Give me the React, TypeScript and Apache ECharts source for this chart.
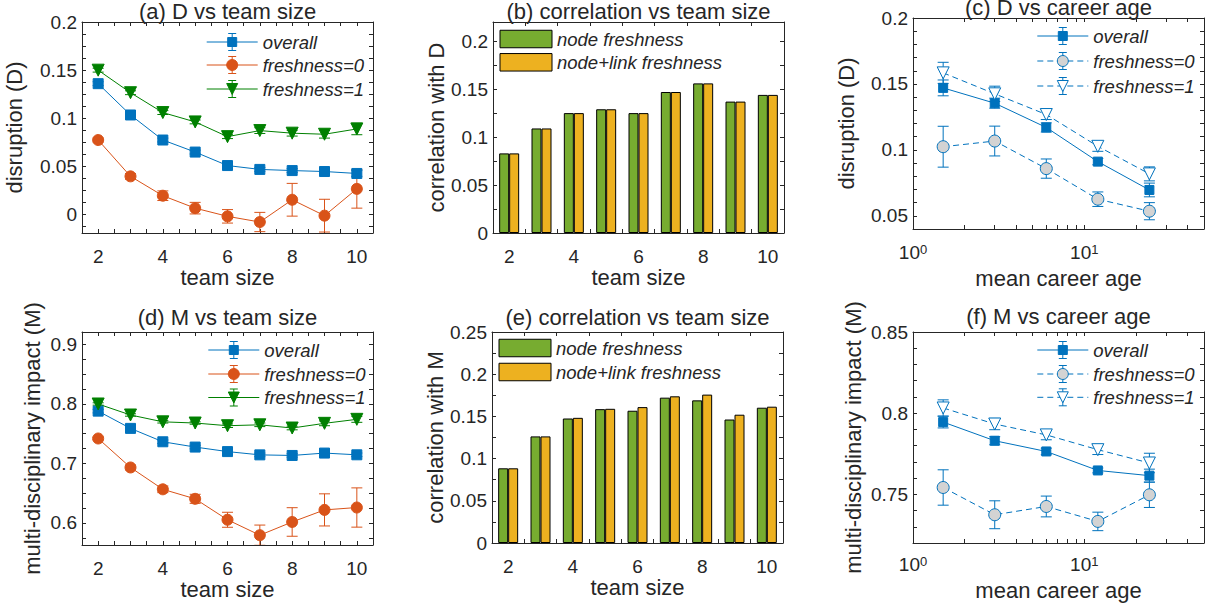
import { useEffect, useRef } from 'react';
import * as echarts from 'echarts';

const FONT = "'Liberation Sans', Arial, Helvetica, sans-serif";
const INK = '#262626';
const BLUE = '#0072BD';
const ORANGE = '#D95319';
const GREEN = '#008000';
const GRAY_FILL = '#D3D3D3';
const BAR_GREEN = '#77AC30';
const BAR_YELLOW = '#EDB120';

// ---- data ----
const teamSizes = [2, 3, 4, 5, 6, 7, 8, 9, 10];
const teamSizeLabels = ['2', '3', '4', '5', '6', '7', '8', '9', '10'];
const careerAges = [1.5, 3, 6, 12, 24];

// (a) disruption vs team size
const dOverall = [0.136, 0.1035, 0.0775, 0.065, 0.051, 0.047, 0.0458, 0.0448, 0.0428];
const dOverallErr = [0.002, 0.002, 0.002, 0.002, 0.002, 0.002, 0.002, 0.002, 0.003];
const dFresh0 = [0.0775, 0.0398, 0.0197, 0.0068, -0.0017, -0.0076, 0.0155, -0.001, 0.0268];
const dFresh0Err = [0.002, 0.003, 0.005, 0.006, 0.007, 0.01, 0.017, 0.017, 0.02];
const dFresh1 = [0.15, 0.1266, 0.106, 0.0963, 0.081, 0.0873, 0.0846, 0.0835, 0.089];
const dFresh1Err = [0.002, 0.002, 0.002, 0.002, 0.002, 0.003, 0.003, 0.004, 0.006];

// (b) correlation with D
const corrDNode = [0.083, 0.109, 0.125, 0.129, 0.125, 0.147, 0.156, 0.137, 0.144];
const corrDLink = [0.083, 0.109, 0.125, 0.129, 0.125, 0.147, 0.156, 0.137, 0.144];

// (c) disruption vs career age
const cOverall = [0.147, 0.1354, 0.117, 0.0911, 0.0696];
const cOverallErr = [0.006, 0.0038, 0.0035, 0.0024, 0.0052];
const cFresh0 = [0.1024, 0.1067, 0.0858, 0.0626, 0.0535];
const cFresh0Err = [0.0155, 0.0113, 0.0073, 0.0055, 0.0065];
const cFresh1 = [0.1584, 0.1425, 0.1268, 0.1027, 0.0818];
const cFresh1Err = [0.008, 0.0058, 0.0038, 0.0038, 0.0053];

// (d) multi-disciplinary impact vs team size
const mOverall = [0.788, 0.759, 0.7365, 0.7276, 0.72, 0.7145, 0.7135, 0.7175, 0.7146];
const mOverallErr = [0.003, 0.003, 0.003, 0.003, 0.003, 0.003, 0.003, 0.003, 0.003];
const mFresh0 = [0.742, 0.6933, 0.6566, 0.6406, 0.6054, 0.5795, 0.6017, 0.622, 0.626];
const mFresh0Err = [0.002, 0.004, 0.0056, 0.0076, 0.0126, 0.017, 0.024, 0.027, 0.033];
const mFresh1 = [0.8, 0.7815, 0.77, 0.768, 0.7635, 0.765, 0.7596, 0.7675, 0.7742];
const mFresh1Err = [0.002, 0.002, 0.002, 0.002, 0.003, 0.003, 0.003, 0.004, 0.005];

// (e) correlation with M
const corrMNode = [0.0885, 0.1263, 0.1475, 0.1586, 0.1567, 0.1722, 0.169, 0.1463, 0.1603];
const corrMLink = [0.0885, 0.1263, 0.1483, 0.159, 0.161, 0.1738, 0.1758, 0.152, 0.1615];

// (f) multi-disciplinary impact vs career age
const fOverall = [0.7945, 0.783, 0.7764, 0.7647, 0.7615];
const fOverallErr = [0.0036, 0.0025, 0.002, 0.0015, 0.004];
const fFresh0 = [0.7542, 0.7374, 0.7425, 0.7333, 0.7497];
const fFresh0Err = [0.0109, 0.0086, 0.0064, 0.0057, 0.0078];
const fFresh1 = [0.8032, 0.7933, 0.7866, 0.7775, 0.7693];
const fFresh1Err = [0.005, 0.0035, 0.003, 0.003, 0.006];

// tick labels
const teamTickLabels = [2, 4, 6, 8, 10];
const logTickLabels = [1, 10];
const dTickLabels = [0, 0.05, 0.1, 0.15, 0.2];
const corrDTickLabels = [0, 0.05, 0.1, 0.15, 0.2];
const cTickLabels = [0.05, 0.1, 0.15, 0.2];
const mTickLabels = [0.6, 0.7, 0.8, 0.9];
const corrMTickLabels = [0, 0.05, 0.1, 0.15, 0.2, 0.25];
const fTickLabels = [0.75, 0.8, 0.85];
const logMinorTicks = [1, 2, 3, 4, 5, 6, 7, 8, 9, 10, 20, 30, 40, 50];

function steps(from: number, to: number, step: number): number[] {
  const out: number[] = [];
  const n = Math.round((to - from) / step);
  for (let i = 0; i <= n; i++) out.push(+(from + i * step).toFixed(6));
  return out;
}

type Marker = 'square' | 'circle' | 'tri';
interface LineSpec {
  name: string;
  xs: number[];
  ys: number[];
  errs: number[];
  color: string;
  fill: string;
  marker: Marker;
  size: number;
  dashed: boolean;
}
interface Box { left: number; top: number; width: number; height: number }

const labelFont = { color: INK, fontSize: 19, fontFamily: FONT };
const nameFont = { color: INK, fontSize: 22, fontFamily: FONT };
const axisLine = { show: true, onZero: false, lineStyle: { color: INK, width: 1 } };
const tickLine = { color: INK, width: 1 };

function fmt(v: number) {
  return String(+v.toFixed(4));
}

function buildOption() {
  const grid: any[] = [];
  const xAxis: any[] = [];
  const yAxis: any[] = [];
  const series: any[] = [];
  const graphic: any[] = [];

  const addGrid = (box: Box) => {
    grid.push({ ...box, containLabel: false, show: false });
    return grid.length - 1;
  };

  const addX = (gi: number, base: any, tick: any, label: any, name: string, nameGap: number) => {
    const idx = xAxis.length;
    xAxis.push({
      ...base, gridIndex: gi, position: 'bottom', axisLine,
      axisTick: { show: true, inside: true, length: 4, lineStyle: tickLine, ...tick },
      axisLabel: { show: true, ...labelFont, ...label },
      splitLine: { show: false },
      name, nameLocation: 'middle', nameGap, nameTextStyle: nameFont,
    });
    xAxis.push({
      ...base, gridIndex: gi, position: 'top', axisLine,
      axisTick: { show: true, inside: true, length: 4, lineStyle: tickLine, ...tick },
      axisLabel: { show: false },
      splitLine: { show: false },
    });
    return idx;
  };

  const addY = (gi: number, min: number, max: number, labels: number[], ticks: number[], name: string, nameGap: number) => {
    const idx = yAxis.length;
    const base = { type: 'value', min, max };
    yAxis.push({
      ...base, gridIndex: gi, position: 'left', axisLine,
      axisTick: { show: true, inside: true, length: 4, lineStyle: tickLine, customValues: ticks },
      axisLabel: { show: true, ...labelFont, margin: 5, customValues: labels, formatter: fmt },
      splitLine: { show: false },
      name, nameLocation: 'middle', nameGap, nameTextStyle: nameFont,
    });
    yAxis.push({
      ...base, gridIndex: gi, position: 'right', axisLine,
      axisTick: { show: true, inside: true, length: 4, lineStyle: tickLine, customValues: ticks },
      axisLabel: { show: false },
      splitLine: { show: false },
    });
    return idx;
  };

  const addTitle = (text: string, x: number, y: number) => {
    graphic.push({
      type: 'text', x, y, z: 50, silent: true,
      style: { text, fill: INK, fontSize: 22, fontFamily: FONT, align: 'center', verticalAlign: 'middle' },
    });
  };

  const markerEl = (kind: Marker, cx: number, cy: number, size: number, fill: string, stroke: string) => {
    const s = size / 2;
    if (kind === 'square') {
      return { type: 'rect', z: 52, silent: true, shape: { x: cx - s, y: cy - s, width: size, height: size }, style: { fill, stroke, lineWidth: 1 } };
    }
    if (kind === 'circle') {
      return { type: 'circle', z: 52, silent: true, shape: { cx, cy, r: s }, style: { fill, stroke, lineWidth: 1 } };
    }
    return {
      type: 'polygon', z: 52, silent: true,
      shape: { points: [[cx - s, cy - s], [cx + s, cy - s], [cx, cy + s]] },
      style: { fill, stroke, lineWidth: 1 },
    };
  };

  const addLineLegend = (x0: number, rows: number[], items: LineSpec[], sizes: number[]) => {
    items.forEach((it, i) => {
      const y = rows[i];
      const xm = x0 + 25.5;
      const stroke = { stroke: it.color, lineWidth: 1 };
      graphic.push({
        type: 'line', z: 50, silent: true,
        shape: { x1: x0, y1: y, x2: x0 + 51, y2: y },
        style: { ...stroke, lineDash: it.dashed ? [6, 4] : null },
      });
      graphic.push({ type: 'line', z: 51, silent: true, shape: { x1: xm, y1: y - 8.5, x2: xm, y2: y + 8.5 }, style: stroke });
      graphic.push({ type: 'line', z: 51, silent: true, shape: { x1: xm - 4, y1: y - 8.5, x2: xm + 4, y2: y - 8.5 }, style: stroke });
      graphic.push({ type: 'line', z: 51, silent: true, shape: { x1: xm - 4, y1: y + 8.5, x2: xm + 4, y2: y + 8.5 }, style: stroke });
      graphic.push(markerEl(it.marker, xm, y, sizes[i], it.fill, it.color));
      graphic.push({
        type: 'text', x: x0 + 56, y, z: 52, silent: true,
        style: { text: it.name, fill: INK, fontSize: 18.5, fontStyle: 'italic', fontFamily: FONT, align: 'left', verticalAlign: 'middle' },
      });
    });
  };

  const addBarLegend = (x0: number, rows: number[], names: string[], colors: string[]) => {
    names.forEach((n, i) => {
      const y = rows[i];
      graphic.push({
        type: 'rect', z: 50, silent: true,
        shape: { x: x0, y: y - 8.75, width: 52, height: 17.5 },
        style: { fill: colors[i], stroke: '#000', lineWidth: 1 },
      });
      graphic.push({
        type: 'text', x: x0 + 57, y, z: 52, silent: true,
        style: { text: n, fill: INK, fontSize: 18.5, fontStyle: 'italic', fontFamily: FONT, align: 'left', verticalAlign: 'middle' },
      });
    });
  };

  const addLines = (xi: number, yi: number, lines: LineSpec[]) => {
    lines.forEach((ln) => {
      series.push({
        type: 'custom', xAxisIndex: xi, yAxisIndex: yi, clip: true, silent: true, z: 2,
        data: ln.xs.map((x, i) => [x, ln.ys[i], ln.errs[i]]),
        encode: { x: 0, y: 1 },
        renderItem: (_p: any, api: any) => {
          const x = api.value(0);
          const y = api.value(1);
          const e = api.value(2);
          const top = api.coord([x, y + e]);
          const bot = api.coord([x, y - e]);
          const hw = 5.5;
          const style = { stroke: ln.color, lineWidth: 1, fill: null };
          return {
            type: 'group',
            children: [
              { type: 'line', shape: { x1: top[0], y1: top[1], x2: bot[0], y2: bot[1] }, style },
              { type: 'line', shape: { x1: top[0] - hw, y1: top[1], x2: top[0] + hw, y2: top[1] }, style },
              { type: 'line', shape: { x1: bot[0] - hw, y1: bot[1], x2: bot[0] + hw, y2: bot[1] }, style },
            ],
          };
        },
      });
      series.push({
        type: 'line', name: ln.name, xAxisIndex: xi, yAxisIndex: yi, z: 3, silent: true,
        data: ln.xs.map((x, i) => [x, ln.ys[i]]),
        symbol: ln.marker === 'square' ? 'rect' : ln.marker === 'circle' ? 'circle' : 'triangle',
        symbolRotate: ln.marker === 'tri' ? 180 : 0,
        symbolSize: ln.size,
        showSymbol: true,
        itemStyle: { color: ln.fill, borderColor: ln.color, borderWidth: 1 },
        lineStyle: { color: ln.color, width: 1, type: ln.dashed ? [6, 4] : 'solid' },
        emphasis: { disabled: true },
      });
    });
  };

  const addBars = (xi: number, yi: number, a: number[], b: number[]) => {
    [a, b].forEach((vals, k) => {
      series.push({
        type: 'bar', xAxisIndex: xi, yAxisIndex: yi, silent: true,
        name: k === 0 ? 'node freshness' : 'node+link freshness',
        data: vals, barWidth: 10, barGap: '0%',
        itemStyle: { color: k === 0 ? BAR_GREEN : BAR_YELLOW, borderColor: '#000', borderWidth: 1 },
        emphasis: { disabled: true },
      });
    });
  };

  const teamValueX = { type: 'value', min: 1.5, max: 10.5 };
  const teamCatX = { type: 'category', data: teamSizeLabels, boundaryGap: true };
  const logX = { type: 'log', logBase: 10, min: 1, max: 50 };
  const halfSteps = steps(1.5, 10.5, 0.5);
  const logLabel = {
    customValues: logTickLabels,
    formatter: (v: number) => `{b|10}{s|${Math.round(Math.log10(v))}}`,
    rich: {
      b: { color: INK, fontSize: 19, fontFamily: FONT, lineHeight: 19, verticalAlign: 'bottom' },
      s: { color: INK, fontSize: 13, fontFamily: FONT, lineHeight: 13, padding: [0, 0, 11, 0], verticalAlign: 'top' },
    },
  };

  // ---------- (a) ----------
  let gi = addGrid({ left: 82, top: 22, width: 291, height: 211 });
  let xi = addX(gi, teamValueX, { customValues: halfSteps }, { customValues: teamTickLabels, margin: 14, formatter: fmt }, 'team size', 31);
  let yi = addY(gi, -0.019, 0.2, dTickLabels, steps(-0.0125, 0.2, 0.0125), 'disruption (D)', 56.5);
  const linesA: LineSpec[] = [
    { name: 'overall', xs: teamSizes, ys: dOverall, errs: dOverallErr, color: BLUE, fill: BLUE, marker: 'square', size: 10, dashed: false },
    { name: 'freshness=0', xs: teamSizes, ys: dFresh0, errs: dFresh0Err, color: ORANGE, fill: ORANGE, marker: 'circle', size: 11, dashed: false },
    { name: 'freshness=1', xs: teamSizes, ys: dFresh1, errs: dFresh1Err, color: GREEN, fill: GREEN, marker: 'tri', size: 12, dashed: false },
  ];
  addLines(xi, yi, linesA);
  addTitle('(a) D vs team size', 227.5, 11.5);
  addLineLegend(206.7, [42, 65, 89], linesA, [9, 11, 11]);

  // ---------- (b) ----------
  gi = addGrid({ left: 493, top: 22, width: 291, height: 211 });
  xi = addX(gi, teamCatX, { interval: 0, alignWithLabel: false }, { interval: 1, margin: 14 }, 'team size', 31);
  yi = addY(gi, 0, 0.22, corrDTickLabels, steps(0, 0.2, 0.025), 'correlation with D', 46);
  addBars(xi, yi, corrDNode, corrDLink);
  addTitle('(b) correlation vs team size', 638.5, 11.5);
  addBarLegend(500, [39, 62.3], ['node freshness', 'node+link freshness'], [BAR_GREEN, BAR_YELLOW]);

  // ---------- (c) ----------
  gi = addGrid({ left: 913, top: 18, width: 291, height: 211 });
  xi = addX(gi, logX, { customValues: logMinorTicks }, { ...logLabel, margin: 14 }, 'mean career age', 37);
  yi = addY(gi, 0.04, 0.2, cTickLabels, steps(0.04, 0.2, 0.01), 'disruption (D)', 55.7);
  const linesC: LineSpec[] = [
    { name: 'overall', xs: careerAges, ys: cOverall, errs: cOverallErr, color: BLUE, fill: BLUE, marker: 'square', size: 9, dashed: false },
    { name: 'freshness=0', xs: careerAges, ys: cFresh0, errs: cFresh0Err, color: BLUE, fill: GRAY_FILL, marker: 'circle', size: 12, dashed: true },
    { name: 'freshness=1', xs: careerAges, ys: cFresh1, errs: cFresh1Err, color: BLUE, fill: '#ffffff', marker: 'tri', size: 12, dashed: true },
  ];
  addLines(xi, yi, linesC);
  addTitle('(c) D vs career age', 1058.5, 7);
  addLineLegend(1037.3, [36, 61, 86], linesC, [9, 11, 11]);

  // ---------- (d) ----------
  gi = addGrid({ left: 82, top: 332, width: 291, height: 213 });
  xi = addX(gi, teamValueX, { customValues: halfSteps }, { customValues: teamTickLabels, margin: 14, formatter: fmt }, 'team size', 31);
  yi = addY(gi, 0.563, 0.921, mTickLabels, steps(0.575, 0.9, 0.025), 'multi-disciplinary impact (M)', 38.3);
  const linesD: LineSpec[] = [
    { name: 'overall', xs: teamSizes, ys: mOverall, errs: mOverallErr, color: BLUE, fill: BLUE, marker: 'square', size: 10, dashed: false },
    { name: 'freshness=0', xs: teamSizes, ys: mFresh0, errs: mFresh0Err, color: ORANGE, fill: ORANGE, marker: 'circle', size: 11, dashed: false },
    { name: 'freshness=1', xs: teamSizes, ys: mFresh1, errs: mFresh1Err, color: GREEN, fill: GREEN, marker: 'tri', size: 12, dashed: false },
  ];
  addLines(xi, yi, linesD);
  addTitle('(d) M vs team size', 227.5, 317.5);
  addLineLegend(208.3, [350, 374, 397.5], linesD, [9, 11, 11]);

  // ---------- (e) ----------
  gi = addGrid({ left: 492, top: 332, width: 291, height: 211 });
  xi = addX(gi, teamCatX, { interval: 0, alignWithLabel: false }, { interval: 1, margin: 14 }, 'team size', 31);
  yi = addY(gi, 0, 0.25, corrMTickLabels, steps(0, 0.25, 0.025), 'correlation with M', 45.6);
  addBars(xi, yi, corrMNode, corrMLink);
  addTitle('(e) correlation vs team size', 637.5, 317.5);
  addBarLegend(499, [348, 372], ['node freshness', 'node+link freshness'], [BAR_GREEN, BAR_YELLOW]);

  // ---------- (f) ----------
  gi = addGrid({ left: 913, top: 332, width: 291, height: 211 });
  xi = addX(gi, logX, { customValues: logMinorTicks }, { ...logLabel, margin: 12 }, 'mean career age', 36);
  yi = addY(gi, 0.72, 0.85, fTickLabels, steps(0.72, 0.85, 0.01), 'multi-disciplinary impact (M)', 49);
  const linesF: LineSpec[] = [
    { name: 'overall', xs: careerAges, ys: fOverall, errs: fOverallErr, color: BLUE, fill: BLUE, marker: 'square', size: 9, dashed: false },
    { name: 'freshness=0', xs: careerAges, ys: fFresh0, errs: fFresh0Err, color: BLUE, fill: GRAY_FILL, marker: 'circle', size: 12, dashed: true },
    { name: 'freshness=1', xs: careerAges, ys: fFresh1, errs: fFresh1Err, color: BLUE, fill: '#ffffff', marker: 'tri', size: 12, dashed: true },
  ];
  addLines(xi, yi, linesF);
  addTitle('(f) M vs career age', 1058.5, 316);
  addLineLegend(1037.3, [350, 374, 397.3], linesF, [9, 11, 11]);

  return {
    animation: false,
    backgroundColor: '#ffffff',
    textStyle: { fontFamily: FONT },
    grid, xAxis, yAxis, series, graphic,
  };
}

export default function App() {
  const ref = useRef<HTMLDivElement>(null);
  useEffect(() => {
    if (!ref.current) return;
    const chart = echarts.init(ref.current, undefined, { renderer: 'svg' });
    chart.setOption(buildOption() as any);
    return () => chart.dispose();
  }, []);
  return (
    <div
      ref={ref}
      style={{ position: 'fixed', left: 0, top: 0, width: 1212, height: 612, background: '#fff' }}
    />
  );
}
